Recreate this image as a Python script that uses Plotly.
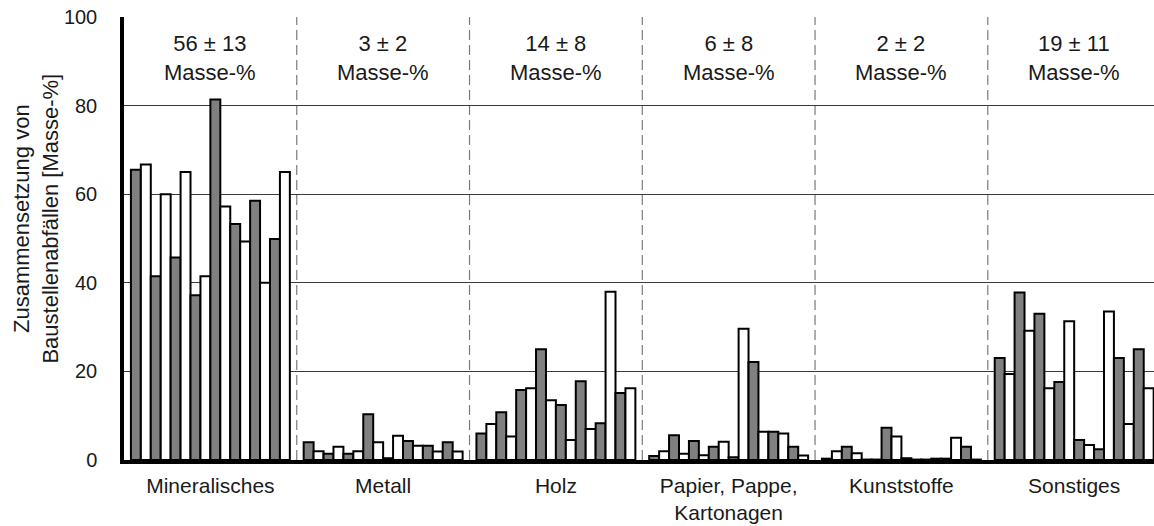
import plotly.graph_objects as go

categories = ["Mineralisches", "Metall", "Holz", "Papier, Pappe,<br>Kartonagen", "Kunststoffe", "Sonstiges"]
summary_labels = ["56 ± 13<br>Masse-%", "3 ± 2<br>Masse-%", "14 ± 8<br>Masse-%",
                  "6 ± 8<br>Masse-%", "2 ± 2<br>Masse-%", "19 ± 11<br>Masse-%"]

mineralisches = [65.5, 66.7, 41.5, 60.0, 45.7, 65.0, 37.2, 41.5, 81.4, 57.2, 53.3, 49.3, 58.5, 40.0, 49.9, 65.0]
metall = [4.0, 2.0, 1.4, 3.0, 1.4, 2.0, 10.3, 4.0, 0.4, 5.5, 4.3, 3.2, 3.2, 1.9, 4.0, 1.9]
holz = [6.0, 8.1, 10.8, 5.3, 15.8, 16.2, 25.0, 13.5, 12.4, 4.5, 17.8, 7.0, 8.3, 38.0, 15.1, 16.2]
papier = [0.9, 2.0, 5.6, 1.4, 4.3, 1.1, 3.0, 4.1, 0.6, 29.6, 22.1, 6.4, 6.4, 6.0, 3.0, 1.0]
kunststoffe = [0.3, 2.0, 3.0, 1.5, 0.1, 0.1, 7.3, 5.3, 0.4, 0.1, 0.1, 0.3, 0.3, 5.0, 3.0, 0.1]
sonstiges = [23.0, 19.4, 37.8, 29.2, 33.0, 16.2, 17.6, 31.3, 4.5, 3.4, 2.4, 33.5, 23.0, 8.1, 25.0, 16.2]

y_ticks = [0, 20, 40, 60, 80, 100]
y_title = "Zusammensetzung von<br>Baustellenabfällen [Masse-%]"

groups = [mineralisches, metall, holz, papier, kunststoffe, sonstiges]
n_samples = len(mineralisches)

FONT = "Arial, Liberation Sans, sans-serif"
TXT = "#1a1a1a"

fig = go.Figure()
for s in range(n_samples):
    fig.add_trace(go.Bar(
        x=categories,
        y=[g[s] for g in groups],
        marker=dict(color="#808080" if s % 2 == 0 else "#ffffff",
                    line=dict(color="#000000", width=2)),
        showlegend=False,
        hoverinfo="skip",
    ))

# dashed separators between categories
for i in range(len(categories) - 1):
    fig.add_shape(type="line", xref="x", yref="y", x0=i + 0.5, x1=i + 0.5, y0=0, y1=100,
                  line=dict(color="#7a7a7a", width=1.2, dash="10px,5px"), layer="below")

for i, lab in enumerate(summary_labels):
    fig.add_annotation(x=categories[i], xref="x", y=0.907, yref="paper", text=lab,
                       showarrow=False, xanchor="center", yanchor="middle",
                       font=dict(family=FONT, size=22, color=TXT))

# y-axis title
fig.add_annotation(x=-0.0854, xref="paper", y=0.545, yref="paper", text=y_title,
                   textangle=-90, showarrow=False, xanchor="center", yanchor="middle",
                   font=dict(family=FONT, size=22, color=TXT))

fig.update_layout(
    width=1154, height=526,
    margin=dict(l=124, r=0, t=17, b=66),
    paper_bgcolor="white", plot_bgcolor="white",
    barmode="group", bargap=0.08, bargroupgap=0,
    font=dict(family=FONT, color=TXT),
)
fig.update_xaxes(
    type="category", range=[-0.5, 5.462],
    showline=True, linecolor="black", linewidth=3.5,
    showgrid=False, ticks="", ticklabelstandoff=4,
    tickfont=dict(family=FONT, size=21, color=TXT),
)
fig.update_yaxes(
    range=[0, 100], tickvals=y_ticks, showgrid=True, gridcolor="#3a3a3a", gridwidth=1,
    showline=True, linecolor="black", linewidth=3.5, zeroline=False,
    ticks="", ticklabelstandoff=19, tickfont=dict(family=FONT, size=20, color=TXT),
)

fig.write_html("out.html")
